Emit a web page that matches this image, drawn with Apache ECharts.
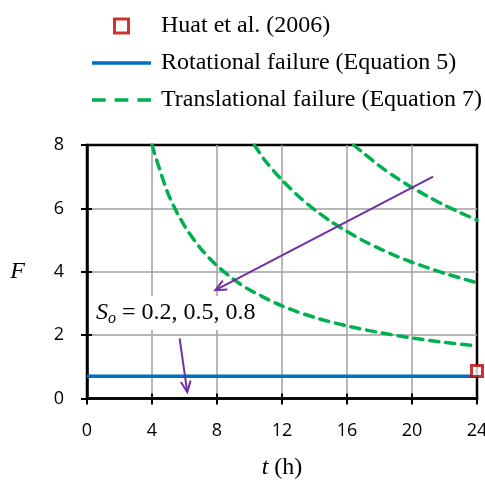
<!DOCTYPE html>
<html>
<head>
<meta charset="utf-8">
<script src="https://cdn.jsdelivr.net/npm/echarts@6/dist/echarts.min.js"></script>
<style>
  html, body { margin: 0; padding: 0; background: #fff; }
  #chart { width: 485px; height: 481px; }
</style>
</head>
<body>
<div id="chart"></div>
<script>
// Time axis ticks (hours) and factor-of-safety ticks
const tTicks = [0, 4, 8, 12, 16, 20, 24];
const fTicks = [0, 2, 4, 6, 8];

// Translational failure curves, one per So value
const tSo02 = [4.0, 5, 6, 7, 8, 9, 10, 12, 14, 16, 18, 20, 22, 24];
const fSo02 = [8.0, 6.45, 5.45, 4.73, 4.19, 3.77, 3.43, 2.92, 2.56, 2.29, 2.08, 1.91, 1.77, 1.66];
const tSo05 = [10.3, 11, 12, 13, 14, 15, 16, 17, 18, 19, 20, 21, 22, 23, 24];
const fSo05 = [8.0, 7.48, 6.89, 6.39, 5.96, 5.59, 5.27, 4.98, 4.73, 4.50, 4.30, 4.12, 3.95, 3.80, 3.65];
const tSo08 = [16.4, 17, 18, 19, 20, 21, 22, 23, 24];
const fSo08 = [8.0, 7.75, 7.34, 6.98, 6.66, 6.37, 6.10, 5.86, 5.63];

// Rotational failure (constant)
const tRot = [0, 24];
const fRot = [0.7, 0.7];

// Huat et al. (2006) observation
const tHuat = [24];
const fHuat = [0.87];

// Annotation arrows: [tFrom, fFrom, tTo, fTo]
const arrows = [
  [21.3, 7.0, 7.9, 3.42],
  [5.7, 1.9, 6.17, 0.2]
];

const names = ['Huat et al. (2006)', 'Rotational failure (Equation 5)', 'Translational failure (Equation 7)'];

const zip = (a, b) => a.map((v, i) => [v, b[i]]);

const green = '#00B050';
const blue = '#0070C0';
const red = '#C00000';
const purple = '#7030A0';
const serif = '"Liberation Serif", "Times New Roman", serif';
const sans = '"Open Sans", "Liberation Sans", sans-serif';

const dashStyle = { color: green, width: 3.5, type: [9, 7], cap: 'round' };

// Legend glyphs: hollow square, solid bar, three dashes
const iconSquare = 'path://M0,0H10V10H0Z';
const iconSolid = 'path://M0,0H59V3.5H0Z';
const iconDashed = 'path://M0,0H13V3.5H0Z M21.5,0H34.5V3.5H21.5Z M43,0H56V3.5H43Z';

const chart = echarts.init(document.getElementById('chart'), null, { renderer: 'canvas' });

const option = {
  animation: false,
  backgroundColor: '#fff',
  legend: {
    orient: 'vertical',
    left: 87,
    top: 9,
    itemWidth: 59,
    itemHeight: 14,
    itemGap: 13,
    selectedMode: false,
    textStyle: { fontFamily: serif, fontSize: 24, color: '#000', lineHeight: 24, padding: [0, 0, 0, 5] },
    data: [
      { name: names[0], icon: iconSquare,
        itemStyle: { color: '#fff', borderColor: red, borderWidth: 3 } },
      { name: names[1], icon: iconSolid, itemStyle: { color: blue, borderWidth: 0 } },
      { name: names[2], icon: iconDashed, itemStyle: { color: green, borderWidth: 0 } }
    ]
  },
  grid: {
    left: 87, right: 8, top: 145, bottom: 82.5,
    containLabel: false, outerBoundsMode: 'none',
    show: true, borderColor: '#000', borderWidth: 2.5, backgroundColor: 'transparent'
  },
  xAxis: [
    {
      type: 'value', min: 0, max: 24, interval: 4,
      name: '{i|t} (h)', nameLocation: 'middle', nameGap: 57,
      nameTextStyle: { fontFamily: serif, fontSize: 24, color: '#000',
        rich: { i: { fontFamily: serif, fontSize: 24, fontStyle: 'italic', color: '#000' } } },
      axisLine: { show: true, onZero: false, lineStyle: { color: '#000', width: 2.5 } },
      axisTick: { show: true, inside: false, length: 6, lineStyle: { color: '#000', width: 2 } },
      axisLabel: { margin: 23, fontFamily: sans, fontSize: 18, color: '#000', showMaxLabel: true, hideOverlap: false },
      splitLine: { show: true, showMinLine: false, showMaxLine: false, lineStyle: { color: '#A0A0A0', width: 1.5 } }
    },
    {
      type: 'value', min: 0, max: 24, interval: 4, position: 'bottom',
      axisLine: { show: false },
      axisTick: { show: true, inside: true, length: 5, lineStyle: { color: '#000', width: 2 } },
      axisLabel: { show: false },
      splitLine: { show: false }
    }
  ],
  yAxis: [
    {
      type: 'value', min: 0, max: 8, interval: 2,
      name: 'F', nameLocation: 'middle', nameRotate: 0, nameGap: 62,
      nameTextStyle: { fontFamily: serif, fontSize: 24, fontStyle: 'italic', color: '#000' },
      axisLine: { show: true, onZero: false, lineStyle: { color: '#000', width: 2.5 } },
      axisTick: { show: true, inside: false, length: 6, lineStyle: { color: '#000', width: 2 } },
      axisLabel: { margin: 23, fontFamily: sans, fontSize: 18, color: '#000' },
      splitLine: { show: true, showMinLine: false, showMaxLine: false, lineStyle: { color: '#A0A0A0', width: 1.5 } }
    },
    {
      type: 'value', min: 0, max: 8, interval: 2, position: 'left',
      axisLine: { show: false },
      axisTick: { show: true, inside: true, length: 5, lineStyle: { color: '#000', width: 2 } },
      axisLabel: { show: false },
      splitLine: { show: false }
    }
  ],
  series: [
    {
      name: names[1], type: 'line', data: zip(tRot, fRot), symbol: 'none',
      lineStyle: { color: blue, width: 3.5 }, itemStyle: { color: blue }, z: 3
    },
    {
      name: names[2], type: 'line', data: zip(tSo02, fSo02), symbol: 'none', smooth: 0.3,
      lineStyle: dashStyle, itemStyle: { color: green }, z: 3
    },
    {
      name: names[2], type: 'line', data: zip(tSo05, fSo05), symbol: 'none', smooth: 0.3,
      lineStyle: dashStyle, itemStyle: { color: green }, z: 3
    },
    {
      name: names[2], type: 'line', data: zip(tSo08, fSo08), symbol: 'none', smooth: 0.3,
      lineStyle: dashStyle, itemStyle: { color: green }, z: 3
    },
    {
      name: 'arrows', type: 'custom', data: arrows, clip: false, z: 4,
      encode: { x: [0, 2], y: [1, 3] },
      renderItem: function (params, api) {
        const p0 = api.coord([api.value(0), api.value(1)]);
        const p1 = api.coord([api.value(2), api.value(3)]);
        const ang = Math.atan2(p1[1] - p0[1], p1[0] - p0[0]);
        const L = 12, spread = 0.42;
        const h1 = [p1[0] - L * Math.cos(ang - spread), p1[1] - L * Math.sin(ang - spread)];
        const h2 = [p1[0] - L * Math.cos(ang + spread), p1[1] - L * Math.sin(ang + spread)];
        return {
          type: 'group',
          children: [
            { type: 'line', shape: { x1: p0[0], y1: p0[1], x2: p1[0], y2: p1[1] },
              style: { stroke: purple, lineWidth: 2 } },
            { type: 'polyline', shape: { points: [h1, p1, h2] },
              style: { stroke: purple, lineWidth: 2, fill: null } }
          ]
        };
      }
    },
    {
      name: names[0], type: 'scatter', data: zip(tHuat, fHuat), clip: false,
      symbol: 'rect', symbolSize: 11, z: 6,
      itemStyle: { color: '#fff', borderColor: red, borderWidth: 3 }
    }
  ],
  graphic: [
    {
      type: 'text', left: 91, top: 296, z: 5,
      style: {
        text: '{s|S}{o|o}{n| = 0.2, 0.5, 0.8}',
        backgroundColor: '#fff',
        padding: [2, 4, 2, 5],
        rich: {
          s: { fontFamily: serif, fontSize: 24, fontStyle: 'italic', fill: '#000', lineHeight: 30 },
          o: { fontFamily: serif, fontSize: 16, fontStyle: 'italic', fill: '#000', padding: [12, 0, 0, 0], lineHeight: 30 },
          n: { fontFamily: serif, fontSize: 24, fill: '#000', lineHeight: 30 }
        }
      }
    }
  ]
};

chart.setOption(option);
</script>
</body>
</html>
